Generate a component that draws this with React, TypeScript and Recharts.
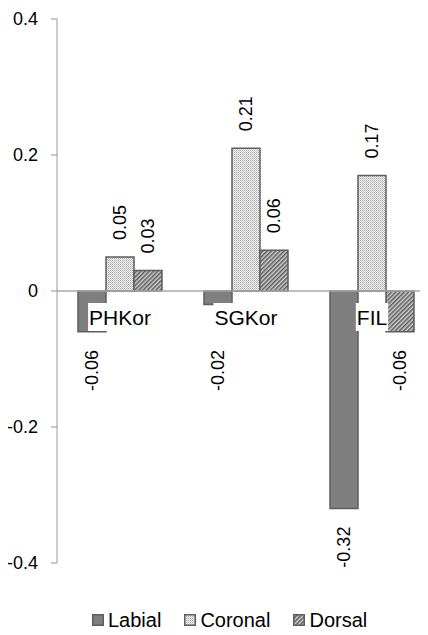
import React from 'react';
import { BarChart, Bar, XAxis, YAxis, ReferenceLine, LabelList } from 'recharts';

const categories = ['PHKor', 'SGKor', 'FIL'];
const labial = [-0.06, -0.02, -0.32];
const coronal = [0.05, 0.21, 0.17];
const dorsal = [0.03, 0.06, -0.06];
const yTicks = [-0.4, -0.2, 0, 0.2, 0.4];

const data = categories.map((name, i) => ({
    name,
    labial: labial[i],
    coronal: coronal[i],
    dorsal: dorsal[i],
}));

const FONT = '"Liberation Sans", Arial, Helvetica, sans-serif';
const CHART_W = 438;
const CHART_H = 575;
const X_AXIS_H = 1;
const MARGIN = { top: 11, right: 3, bottom: 19, left: 8 };
const Y_MIN = -0.4;
const Y_MAX = 0.4;
const PLOT_H = CHART_H - MARGIN.top - MARGIN.bottom - X_AXIS_H;
// category labels sit on the zero line, like the original
const zeroY = MARGIN.top + PLOT_H * (Y_MAX / (Y_MAX - Y_MIN));
const CAT_BOX_BOTTOM = zeroY + 41;
const BORDER = '#5e5e5e';

const measure = (s: string, size: number) => {
    const ctx = document.createElement('canvas').getContext('2d');
    if (!ctx) return s.length * size * 0.6;
    ctx.font = `${size}px "Liberation Sans"`;
    return ctx.measureText(s).width;
};

const CategoryTick = (props: any) => {
    const { x, payload } = props;
    const w = measure(String(payload.value), 21);
    return (
        <g>
            <rect x={x - w / 2 - 1} y={zeroY + 12} width={w + 2} height={28} fill="#fff" />
            <text x={x} y={zeroY + 34} textAnchor="middle" fontSize={21} fontFamily={FONT} fill="#000">
                {payload.value}
            </text>
        </g>
    );
};

const ValueLabel = (props: any) => {
    const { x, y, width, height, value } = props;
    const cx = x + width / 2;
    const top = Math.min(y, y + height);
    const bottom = Math.max(y, y + height);
    const pos = value >= 0;
    // negative labels keep clear of the category label box
    const ly = pos ? top - 17 : Math.max(bottom, CAT_BOX_BOTTOM) + 18;
    return (
        <text
            x={cx}
            y={ly}
            transform={`rotate(-90 ${cx} ${ly})`}
            textAnchor={pos ? 'start' : 'end'}
            dominantBaseline="central"
            fontSize={18}
            fontFamily={FONT}
            fill="#000"
        >
            {String(value)}
        </text>
    );
};

const Patterns = () => (
    <defs>
        <pattern id="pat-coronal" width="2" height="2" patternUnits="userSpaceOnUse">
            <rect width="2" height="2" fill="#f4f4f4" />
            <rect width="1" height="1" fill="#a8a8a8" />
            <rect x="1" y="1" width="1" height="1" fill="#c8c8c8" />
        </pattern>
        <pattern id="pat-dorsal" width="3" height="3" patternUnits="userSpaceOnUse" patternTransform="rotate(45)">
            <rect width="3" height="3" fill="#d0d0d0" />
            <rect width="1.5" height="3" fill="#5a5a5a" />
        </pattern>
    </defs>
);

const legendItems = [
    { name: 'Labial', fill: '#7f7f7f' },
    { name: 'Coronal', fill: 'url(#pat-coronal)' },
    { name: 'Dorsal', fill: 'url(#pat-dorsal)' },
];

export default function App() {
    return (
        <div style={{ width: 428, marginLeft: -8, overflow: 'hidden' }}>
            <BarChart width={CHART_W} height={CHART_H} data={data} margin={MARGIN} barGap={0} barSize={28}>
                <Patterns />
                <YAxis
                    domain={[Y_MIN, Y_MAX]}
                    ticks={yTicks}
                    interval={0}
                    allowDataOverflow
                    width={49}
                    tickSize={6}
                    tickMargin={13}
                    tickFormatter={(v) => String(v)}
                    axisLine={{ stroke: '#999' }}
                    tickLine={{ stroke: '#999' }}
                    tick={{ fill: '#000', fontSize: 18, fontFamily: FONT }}
                />
                <ReferenceLine y={0} stroke="#aaa" strokeWidth={1.5} />
                <Bar dataKey="labial" fill="#7f7f7f" stroke={BORDER} strokeWidth={1.5} isAnimationActive={false}>
                    <LabelList dataKey="labial" content={<ValueLabel />} />
                </Bar>
                <Bar dataKey="coronal" fill="url(#pat-coronal)" stroke={BORDER} strokeWidth={1.5} isAnimationActive={false}>
                    <LabelList dataKey="coronal" content={<ValueLabel />} />
                </Bar>
                <Bar dataKey="dorsal" fill="url(#pat-dorsal)" stroke={BORDER} strokeWidth={1.5} isAnimationActive={false}>
                    <LabelList dataKey="dorsal" content={<ValueLabel />} />
                </Bar>
                <XAxis
                    dataKey="name"
                    height={X_AXIS_H}
                    axisLine={false}
                    tickLine={false}
                    tickSize={0}
                    tickMargin={0}
                    interval={0}
                    tick={<CategoryTick />}
                />
            </BarChart>
            <div style={{ display: 'flex', alignItems: 'center', paddingLeft: 92, marginTop: 25, height: 24, fontFamily: FONT, fontSize: 20, color: '#000' }}>
                {legendItems.map((it) => (
                    <div key={it.name} style={{ display: 'flex', alignItems: 'center', marginRight: 23 }}>
                        <svg width={12} height={12} style={{ marginRight: 4 }}>
                            <rect x={0.75} y={0.75} width={10.5} height={10.5} fill={it.fill} stroke={BORDER} strokeWidth={1.5} />
                        </svg>
                        <span>{it.name}</span>
                    </div>
                ))}
            </div>
        </div>
    );
}
